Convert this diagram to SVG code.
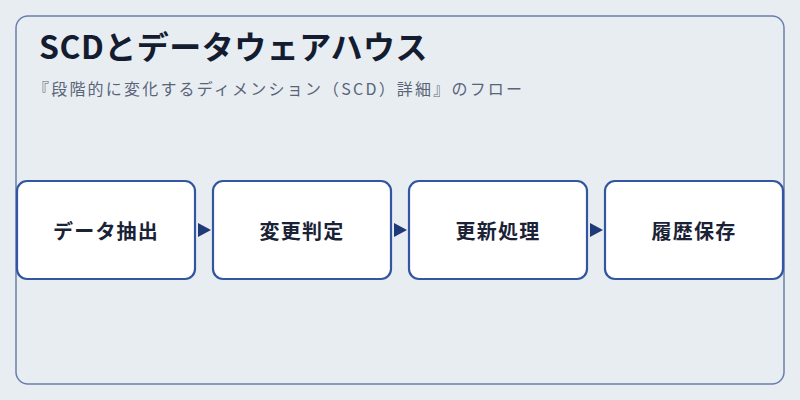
<svg xmlns="http://www.w3.org/2000/svg" width="800" height="400" viewBox="0 0 800 400">
<defs>
<style>
.bg{fill:#e8edf2}
.frame{fill:#e8edf2;stroke:#6880ac;stroke-width:1.5}
.node rect{fill:#ffffff;stroke:#3456a0;stroke-width:2.2}
.node text{font-family:"Noto Sans CJK JP","Noto Sans",sans-serif;font-size:20px;font-weight:700;fill:#1a2236;text-anchor:middle;letter-spacing:1.2px}
.title{font-family:"Noto Sans CJK JP","Noto Sans",sans-serif;font-size:32px;font-weight:700;fill:#141c30;letter-spacing:0.5px}
.sub{font-family:"Noto Sans CJK JP","Noto Sans",sans-serif;font-size:16px;fill:#5a6478;letter-spacing:2.2px}
.arrow{fill:#1f3a78}
</style>
</defs>
<rect class="bg" x="0" y="0" width="800" height="400"/>
<rect class="frame" x="16" y="16" width="768" height="368" rx="12" ry="12"/>
<text class="title" x="39" y="59">SCDとデータウェアハウス</text>
<text class="sub" x="33" y="95">『段階的に変化するディメンション（SCD）詳細』のフロー</text>
<g id="connectors">
<polygon class="arrow" points="198,223 211,230 198,237"/>
<polygon class="arrow" points="394,223 407,230 394,237"/>
<polygon class="arrow" points="590,223 603,230 590,237"/>
</g>
<g id="node1" class="node"><rect x="17" y="181" width="178" height="98" rx="10" ry="10"/><text x="106" y="239">データ抽出</text></g>
<g id="node2" class="node"><rect x="213" y="181" width="178" height="98" rx="10" ry="10"/><text x="302" y="239">変更判定</text></g>
<g id="node3" class="node"><rect x="409" y="181" width="178" height="98" rx="10" ry="10"/><text x="498" y="239">更新処理</text></g>
<g id="node4" class="node"><rect x="605" y="181" width="178" height="98" rx="10" ry="10"/><text x="694" y="239">履歴保存</text></g>
</svg>
